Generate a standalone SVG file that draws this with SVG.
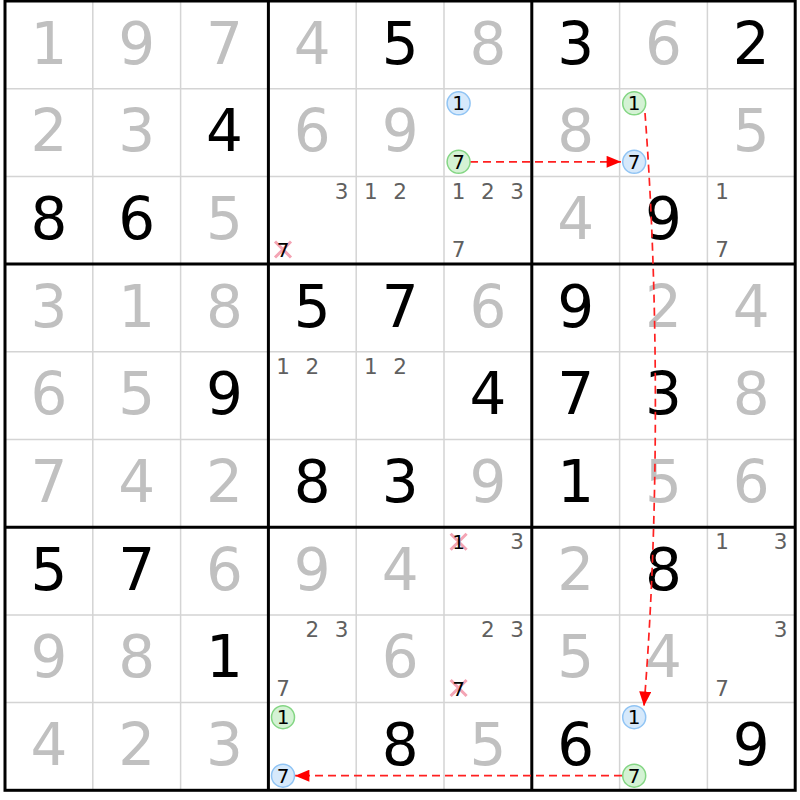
<svg xmlns="http://www.w3.org/2000/svg" width="800" height="800" viewBox="0 0 800 800">
<defs>
<style>
.thin{stroke:#d4d4d4;stroke-width:1.5;fill:none}
.thick{stroke:#000;stroke-width:3;fill:none}
.g{font-family:"DejaVu Sans",Verdana,sans-serif;font-size:58px;fill:#c0c0c0;text-anchor:middle}
.b{font-family:"DejaVu Sans",Verdana,sans-serif;font-size:58px;fill:#000;text-anchor:middle}
.c{font-family:"DejaVu Sans",Verdana,sans-serif;font-size:21.5px;fill:#606060;text-anchor:middle}
.k{font-family:"DejaVu Sans",Verdana,sans-serif;font-size:20px;fill:#000;text-anchor:middle}
.cb{fill:#d6e9fb;stroke:#90c4f4;stroke-width:1.5}
.cg{fill:#d4f2d4;stroke:#84d684;stroke-width:1.5}
.x{stroke:#f4a4b4;stroke-width:3}
.arr{stroke:#ff2020;stroke-width:1.7;stroke-dasharray:8 5;fill:none}
</style>
<marker id="ah" viewBox="0 0 12 10" refX="12" refY="5" markerWidth="15" markerHeight="12" markerUnits="userSpaceOnUse" orient="auto">
<path d="M0,0 L12,5 L0,10 z" fill="#ff0000"/>
</marker>
</defs>
<rect width="800" height="800" fill="#fff"/>
<g id="grid">
<path class="thin" d="M92.8,1V790.3M180.6,1V790.3M356.2,1V790.3M444,1V790.3M619.6,1V790.3M707.4,1V790.3M5,88.7H795.2M5,176.4H795.2M5,351.8H795.2M5,439.5H795.2M5,614.9H795.2M5,702.6H795.2"/>
<path class="thick" d="M268.4,1V790.3M531.8,1V790.3M5,264.1H795.2M5,527.2H795.2"/>
<rect class="thick" x="5" y="1" width="790.2" height="789.3"/>
</g>
<g id="digits">
<text class="g" x="48.9" y="63.5">1</text><text class="g" x="136.7" y="63.5">9</text><text class="g" x="224.5" y="63.5">7</text><text class="g" x="312.3" y="63.5">4</text><text class="b" x="400.1" y="63.5">5</text><text class="g" x="487.9" y="63.5">8</text><text class="b" x="575.7" y="63.5">3</text><text class="g" x="663.5" y="63.5">6</text><text class="b" x="751.3" y="63.5">2</text>
<text class="g" x="48.9" y="151.2">2</text><text class="g" x="136.7" y="151.2">3</text><text class="b" x="224.5" y="151.2">4</text><text class="g" x="312.3" y="151.2">6</text><text class="g" x="400.1" y="151.2">9</text><text class="g" x="575.7" y="151.2">8</text><text class="g" x="751.3" y="151.2">5</text>
<text class="b" x="48.9" y="238.9">8</text><text class="b" x="136.7" y="238.9">6</text><text class="g" x="224.5" y="238.9">5</text><text class="g" x="575.7" y="238.9">4</text><text class="b" x="663.5" y="238.9">9</text>
<text class="g" x="48.9" y="326.6">3</text><text class="g" x="136.7" y="326.6">1</text><text class="g" x="224.5" y="326.6">8</text><text class="b" x="312.3" y="326.6">5</text><text class="b" x="400.1" y="326.6">7</text><text class="g" x="487.9" y="326.6">6</text><text class="b" x="575.7" y="326.6">9</text><text class="g" x="663.5" y="326.6">2</text><text class="g" x="751.3" y="326.6">4</text>
<text class="g" x="48.9" y="414.3">6</text><text class="g" x="136.7" y="414.3">5</text><text class="b" x="224.5" y="414.3">9</text><text class="b" x="487.9" y="414.3">4</text><text class="b" x="575.7" y="414.3">7</text><text class="b" x="663.5" y="414.3">3</text><text class="g" x="751.3" y="414.3">8</text>
<text class="g" x="48.9" y="502">7</text><text class="g" x="136.7" y="502">4</text><text class="g" x="224.5" y="502">2</text><text class="b" x="312.3" y="502">8</text><text class="b" x="400.1" y="502">3</text><text class="g" x="487.9" y="502">9</text><text class="b" x="575.7" y="502">1</text><text class="g" x="663.5" y="502">5</text><text class="g" x="751.3" y="502">6</text>
<text class="b" x="48.9" y="589.7">5</text><text class="b" x="136.7" y="589.7">7</text><text class="g" x="224.5" y="589.7">6</text><text class="g" x="312.3" y="589.7">9</text><text class="g" x="400.1" y="589.7">4</text><text class="g" x="575.7" y="589.7">2</text><text class="b" x="663.5" y="589.7">8</text>
<text class="g" x="48.9" y="677.4">9</text><text class="g" x="136.7" y="677.4">8</text><text class="b" x="224.5" y="677.4">1</text><text class="g" x="400.1" y="677.4">6</text><text class="g" x="575.7" y="677.4">5</text><text class="g" x="663.5" y="677.4">4</text>
<text class="g" x="48.9" y="765.1">4</text><text class="g" x="136.7" y="765.1">2</text><text class="g" x="224.5" y="765.1">3</text><text class="b" x="400.1" y="765.1">8</text><text class="g" x="487.9" y="765.1">5</text><text class="b" x="575.7" y="765.1">6</text><text class="b" x="751.3" y="765.1">9</text>
</g>
<g id="candidates">
<text class="c" x="341.6" y="198.5">3</text>
<text class="c" x="370.8" y="198.5">1</text><text class="c" x="400.1" y="198.5">2</text>
<text class="c" x="458.6" y="198.5">1</text><text class="c" x="487.9" y="198.5">2</text><text class="c" x="517.2" y="198.5">3</text><text class="c" x="458.6" y="257">7</text>
<text class="c" x="722" y="198.5">1</text><text class="c" x="722" y="257">7</text>
<text class="c" x="283" y="373.9">1</text><text class="c" x="312.3" y="373.9">2</text>
<text class="c" x="370.8" y="373.9">1</text><text class="c" x="400.1" y="373.9">2</text>
<text class="c" x="517.2" y="549.3">3</text>
<text class="c" x="722" y="549.3">1</text><text class="c" x="780.6" y="549.3">3</text>
<text class="c" x="312.3" y="637">2</text><text class="c" x="341.6" y="637">3</text><text class="c" x="283" y="695.5">7</text>
<text class="c" x="487.9" y="637">2</text><text class="c" x="517.2" y="637">3</text>
<text class="c" x="780.6" y="637">3</text><text class="c" x="722" y="695.5">7</text>
</g>
<g id="eliminated">
<path class="x" d="M275,241.5l16,16M291,241.5l-16,16"/><text class="k" x="283" y="257">7</text>
<path class="x" d="M450.6,533.8l16,16M466.6,533.8l-16,16"/><text class="k" x="458.6" y="549.3">1</text>
<path class="x" d="M450.6,680l16,16M466.6,680l-16,16"/><text class="k" x="458.6" y="695.5">7</text>
</g>
<g id="connectors">
<path class="arr" d="M470,161.8H621" marker-end="url(#ah)"/>
<path class="arr" d="M645,113C659,300 659,520 644,706" marker-end="url(#ah)"/>
<path class="arr" d="M622,775.7H295" marker-end="url(#ah)"/>
</g>
<g id="node-r2c6">
<circle class="cb" cx="458.6" cy="103.3" r="11.5"/><text class="k" x="458.6" y="110.3">1</text>
<circle class="cg" cx="458.6" cy="161.8" r="11.5"/><text class="k" x="458.6" y="168.8">7</text>
</g>
<g id="node-r2c8">
<circle class="cg" cx="634.2" cy="103.3" r="11.5"/><text class="k" x="634.2" y="110.3">1</text>
<circle class="cb" cx="634.2" cy="161.8" r="11.5"/><text class="k" x="634.2" y="168.8">7</text>
</g>
<g id="node-r9c4">
<circle class="cg" cx="283" cy="717.2" r="11.5"/><text class="k" x="283" y="724.2">1</text>
<circle class="cb" cx="283" cy="775.7" r="11.5"/><text class="k" x="283" y="782.7">7</text>
</g>
<g id="node-r9c8">
<circle class="cb" cx="634.2" cy="717.2" r="11.5"/><text class="k" x="634.2" y="724.2">1</text>
<circle class="cg" cx="634.2" cy="775.7" r="11.5"/><text class="k" x="634.2" y="782.7">7</text>
</g>
</svg>
